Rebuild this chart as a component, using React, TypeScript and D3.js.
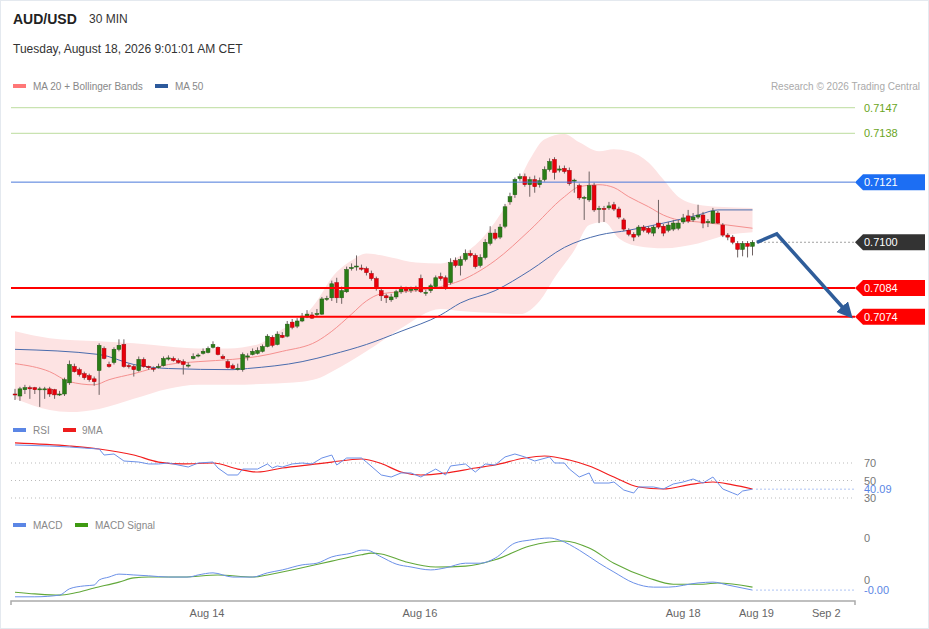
import * as d3 from "d3";

// 30-min bars: [open, high, low, close]
const candles: [number, number, number, number][] = [
  [0.7047, 0.70488, 0.70449, 0.70467],
  [0.70463, 0.70495, 0.70446, 0.70488],
  [0.70485, 0.70502, 0.7047, 0.70492],
  [0.70492, 0.70499, 0.70453, 0.70488],
  [0.70492, 0.70495, 0.7047, 0.70485],
  [0.70485, 0.70495, 0.70425, 0.70488],
  [0.70485, 0.70495, 0.70453, 0.70488],
  [0.70488, 0.70495, 0.7046, 0.7047],
  [0.70485, 0.70488, 0.70453, 0.70467],
  [0.70467, 0.70481, 0.70463, 0.7047],
  [0.7047, 0.70527, 0.70463, 0.7052],
  [0.70509, 0.70587, 0.70502, 0.70573],
  [0.70566, 0.70576, 0.70545, 0.70548],
  [0.70555, 0.70562, 0.70531, 0.70538],
  [0.70541, 0.70548, 0.7052, 0.70527],
  [0.70534, 0.70541, 0.70513, 0.7052],
  [0.70523, 0.70531, 0.70499, 0.70513],
  [0.70552, 0.70647, 0.70467, 0.7064],
  [0.70629, 0.70636, 0.70591, 0.70594],
  [0.70573, 0.70583, 0.70562, 0.70566],
  [0.7058, 0.70633, 0.70573, 0.70626],
  [0.70626, 0.70661, 0.70619, 0.7064],
  [0.70643, 0.70661, 0.70562, 0.70566],
  [0.70569, 0.70576, 0.70559, 0.70566],
  [0.70566, 0.70573, 0.70531, 0.70555],
  [0.70552, 0.70601, 0.70548, 0.70591],
  [0.70591, 0.70598, 0.70562, 0.70566],
  [0.70566, 0.70569, 0.70555, 0.70562],
  [0.7056, 0.70566, 0.70548, 0.70557],
  [0.70562, 0.70576, 0.70559, 0.70566],
  [0.70569, 0.70601, 0.70566, 0.70594],
  [0.70592, 0.70605, 0.70587, 0.70596],
  [0.70594, 0.70601, 0.70583, 0.70587],
  [0.70587, 0.70594, 0.70576, 0.7058],
  [0.70583, 0.70591, 0.70538, 0.70573],
  [0.70569, 0.7058, 0.70562, 0.70571],
  [0.70594, 0.70612, 0.70591, 0.70601],
  [0.70603, 0.70612, 0.70598, 0.70606],
  [0.70612, 0.70629, 0.70608, 0.70619],
  [0.70615, 0.70636, 0.70612, 0.70629],
  [0.70633, 0.70654, 0.70629, 0.70643],
  [0.70633, 0.70636, 0.70605, 0.70608],
  [0.70601, 0.70608, 0.70591, 0.70594],
  [0.70583, 0.70591, 0.70559, 0.70562],
  [0.70569, 0.70576, 0.70555, 0.70559],
  [0.70557, 0.70576, 0.70552, 0.7056],
  [0.70555, 0.70615, 0.70548, 0.70608],
  [0.70599, 0.70612, 0.70587, 0.70603],
  [0.70608, 0.70629, 0.70605, 0.70619],
  [0.70612, 0.70633, 0.70608, 0.70622],
  [0.70619, 0.70643, 0.70615, 0.70636],
  [0.70636, 0.70679, 0.70633, 0.70672],
  [0.70668, 0.70675, 0.70633, 0.7064],
  [0.70643, 0.70689, 0.7064, 0.70679],
  [0.70675, 0.70686, 0.70665, 0.70668],
  [0.70672, 0.70725, 0.70668, 0.70714],
  [0.70721, 0.70732, 0.70696, 0.70703],
  [0.70707, 0.70735, 0.707, 0.70725],
  [0.70725, 0.70753, 0.70721, 0.70742],
  [0.70739, 0.70763, 0.70735, 0.70749],
  [0.70746, 0.70756, 0.70732, 0.70735],
  [0.70748, 0.70767, 0.70742, 0.70751],
  [0.70749, 0.70809, 0.70746, 0.70802],
  [0.70801, 0.70813, 0.70795, 0.70804],
  [0.70806, 0.70866, 0.70795, 0.70855],
  [0.70859, 0.70876, 0.70788, 0.70806],
  [0.70806, 0.70845, 0.70785, 0.70831],
  [0.70827, 0.70915, 0.70823, 0.70905],
  [0.70908, 0.70926, 0.70901, 0.70912],
  [0.70914, 0.70954, 0.70901, 0.70917],
  [0.7091, 0.70922, 0.70901, 0.70906],
  [0.70908, 0.70915, 0.70884, 0.70894],
  [0.70891, 0.70901, 0.70866, 0.70873],
  [0.70873, 0.7088, 0.70831, 0.70838],
  [0.70831, 0.70841, 0.70795, 0.70813],
  [0.70813, 0.7082, 0.70788, 0.70806],
  [0.70799, 0.7082, 0.70792, 0.70809],
  [0.70809, 0.70834, 0.70802, 0.70827],
  [0.70827, 0.70848, 0.7082, 0.70838],
  [0.70838, 0.70845, 0.70823, 0.70831],
  [0.70832, 0.70845, 0.70823, 0.70836],
  [0.70834, 0.70848, 0.70827, 0.70841],
  [0.70873, 0.70887, 0.70823, 0.70827],
  [0.70822, 0.70834, 0.70813, 0.70825],
  [0.70831, 0.70855, 0.70823, 0.70848],
  [0.70845, 0.70884, 0.70838, 0.70876],
  [0.7088, 0.70894, 0.70866, 0.70873],
  [0.70876, 0.70884, 0.70834, 0.70841],
  [0.70859, 0.70944, 0.70852, 0.70929],
  [0.70936, 0.70947, 0.70912, 0.70919],
  [0.70919, 0.70951, 0.70884, 0.7094],
  [0.7094, 0.70975, 0.70933, 0.70961],
  [0.70961, 0.70972, 0.70947, 0.70954],
  [0.70954, 0.70961, 0.70908, 0.70915],
  [0.70919, 0.70958, 0.70912, 0.70947],
  [0.70947, 0.71011, 0.7094, 0.71],
  [0.70996, 0.71056, 0.70989, 0.71032],
  [0.71032, 0.71046, 0.71007, 0.71014],
  [0.71018, 0.71064, 0.71011, 0.71053],
  [0.71056, 0.71134, 0.71049, 0.71124],
  [0.71141, 0.71173, 0.71131, 0.71159],
  [0.71166, 0.71226, 0.71155, 0.71219],
  [0.71222, 0.7124, 0.71215, 0.71229],
  [0.71229, 0.7124, 0.71194, 0.71201],
  [0.71201, 0.71229, 0.71159, 0.71219],
  [0.71219, 0.71233, 0.71173, 0.71194],
  [0.71201, 0.71226, 0.71191, 0.71215],
  [0.71219, 0.71265, 0.71212, 0.71254],
  [0.71254, 0.71293, 0.71247, 0.71282],
  [0.71289, 0.71297, 0.71219, 0.71244],
  [0.71252, 0.71268, 0.71244, 0.71256],
  [0.71258, 0.71268, 0.7124, 0.71247],
  [0.71251, 0.71261, 0.71198, 0.71205],
  [0.71214, 0.71222, 0.71173, 0.71217],
  [0.71198, 0.71205, 0.71148, 0.71155],
  [0.71154, 0.71162, 0.71078, 0.71157],
  [0.71148, 0.71247, 0.71141, 0.71198],
  [0.71198, 0.71208, 0.71106, 0.71113],
  [0.71115, 0.71127, 0.71067, 0.71118],
  [0.71118, 0.71127, 0.71071, 0.71115],
  [0.7112, 0.71141, 0.71113, 0.71127],
  [0.71131, 0.71141, 0.71109, 0.71116],
  [0.71116, 0.71124, 0.71081, 0.71088],
  [0.71078, 0.71085, 0.71039, 0.71046],
  [0.71042, 0.71049, 0.71021, 0.71028],
  [0.71028, 0.71035, 0.71004, 0.71018],
  [0.71025, 0.7106, 0.71018, 0.71053],
  [0.71053, 0.7106, 0.71035, 0.71042],
  [0.71049, 0.71056, 0.71028, 0.71035],
  [0.71032, 0.7106, 0.71021, 0.71053],
  [0.71067, 0.71148, 0.71046, 0.71053],
  [0.71056, 0.71064, 0.71021, 0.71032],
  [0.71042, 0.71071, 0.71035, 0.7106],
  [0.71046, 0.71078, 0.71039, 0.71067],
  [0.71049, 0.71078, 0.71042, 0.71067],
  [0.71071, 0.71099, 0.71064, 0.71085],
  [0.71092, 0.71113, 0.71067, 0.71074],
  [0.71078, 0.71102, 0.71071, 0.71088],
  [0.71088, 0.71131, 0.71081, 0.71095],
  [0.71095, 0.71106, 0.71049, 0.71067],
  [0.71069, 0.71081, 0.71053, 0.71072],
  [0.71067, 0.7112, 0.71064, 0.71109],
  [0.71102, 0.71109, 0.71064, 0.71067],
  [0.7106, 0.71067, 0.71018, 0.71025],
  [0.71025, 0.71032, 0.71007, 0.71018],
  [0.71018, 0.71025, 0.70993, 0.71],
  [0.70996, 0.71004, 0.70947, 0.70975],
  [0.70975, 0.71004, 0.70951, 0.70996],
  [0.70996, 0.71004, 0.70947, 0.70986],
  [0.70986, 0.71007, 0.70954, 0.71],
];

// indicator lines: [bar index, value]
const ma20: [number, number][] = [
  [0, 0.70576], [7, 0.70548], [11, 0.70513], [16, 0.70502], [19, 0.7052], [24, 0.70541],
  [31, 0.70573], [37, 0.70583], [44, 0.70591], [49, 0.70601], [54, 0.70619], [61, 0.70654],
  [64, 0.70689], [68, 0.70749], [71, 0.70795], [74, 0.7082], [81, 0.70831], [86, 0.70845],
  [90, 0.70866], [97, 0.70936], [104, 0.71042], [111, 0.71159], [114, 0.71194], [118, 0.71201],
  [121, 0.71191], [124, 0.71159], [128, 0.71124], [131, 0.71095], [134, 0.71078], [138, 0.71071],
  [144, 0.7106], [149, 0.71049],
];
const ma50: [number, number][] = [
  [0, 0.70626], [17, 0.70608], [24, 0.70573], [31, 0.70559], [44, 0.70555], [47, 0.70559],
  [58, 0.70583], [64, 0.70608], [71, 0.70643], [78, 0.70689], [86, 0.70746], [90, 0.70788],
  [97, 0.70831], [104, 0.70901], [111, 0.70982], [118, 0.71025], [124, 0.71042], [131, 0.71067],
  [138, 0.71095], [142, 0.71113], [149, 0.71113],
];
const bbUpper: [number, number][] = [
  [0, 0.70689], [7, 0.70665], [17, 0.70654], [24, 0.70647], [31, 0.70636], [37, 0.70629],
  [43, 0.70629], [49, 0.70643], [54, 0.70696], [58, 0.70735], [61, 0.70795], [64, 0.70876],
  [68, 0.70936], [71, 0.70961], [76, 0.70947], [81, 0.70929], [86, 0.70926], [90, 0.70954],
  [94, 0.71007], [97, 0.71071], [101, 0.71184], [104, 0.71289], [107, 0.7136], [111, 0.71378],
  [114, 0.71349], [118, 0.71318], [121, 0.71325], [124, 0.71318], [128, 0.71279], [131, 0.71219],
  [134, 0.71159], [138, 0.71131], [142, 0.71124], [149, 0.7112],
];
const bbLower: [number, number][] = [
  [0, 0.70453], [7, 0.70414], [11, 0.70407], [17, 0.70418], [24, 0.70453], [31, 0.70488],
  [37, 0.70502], [44, 0.70502], [51, 0.70506], [58, 0.70513], [61, 0.70523], [64, 0.70548],
  [71, 0.70619], [78, 0.707], [86, 0.70767], [90, 0.7076], [97, 0.70753], [102, 0.70749],
  [106, 0.70795], [109, 0.70876], [113, 0.70972], [116, 0.7106], [119, 0.71071], [122, 0.71014],
  [126, 0.70986], [131, 0.70979], [138, 0.70996], [144, 0.71025], [149, 0.71035],
];

const rsi: [number, number][] = [
  [0, 90.6], [7, 89.4], [11, 88.3], [14, 87.1], [17, 86.0], [18, 79.1], [20, 80.3], [22, 72.3],
  [25, 71.1], [27, 68.9], [29, 68.9], [31, 70.0], [35, 65.4], [37, 70.0], [40, 71.1], [41, 64.3],
  [43, 56.3], [45, 56.3], [46, 63.1], [49, 63.1], [51, 68.9], [52, 64.3], [53, 66.6], [54, 65.4],
  [56, 68.9], [58, 70.0], [60, 68.9], [62, 75.7], [64, 79.1], [65, 67.7], [67, 75.7], [70, 75.7],
  [71, 71.1], [74, 56.3], [76, 54.0], [78, 58.6], [80, 58.6], [82, 54.0], [85, 63.1], [87, 56.3],
  [88, 66.6], [91, 68.9], [93, 59.7], [95, 68.9], [97, 67.7], [99, 76.9], [101, 80.3], [103, 76.9],
  [105, 72.3], [108, 76.9], [109, 70.0], [111, 70.0], [112, 63.1], [114, 54.0], [116, 58.6],
  [117, 47.1], [120, 47.1], [121, 48.3], [123, 39.1], [125, 35.7], [126, 42.6], [129, 42.6],
  [131, 40.3], [133, 46.0], [135, 48.3], [137, 51.7], [139, 47.1], [141, 54.0], [143, 40.3],
  [145, 35.7], [146, 33.4], [147, 38.0], [149, 40.09],
];
const rsiMa: [number, number][] = [
  [0, 92.9], [11, 89.4], [17, 86.0], [24, 79.1], [29, 71.1], [34, 68.9], [40, 70.0], [45, 63.1],
  [49, 59.7], [54, 64.3], [61, 68.9], [64, 71.1], [70, 74.6], [74, 69.4], [78, 59.7], [82, 56.3],
  [87, 58.6], [93, 64.3], [97, 67.7], [103, 75.7], [107, 78.0], [112, 73.4], [116, 66.6],
  [121, 54.0], [126, 42.6], [131, 40.3], [136, 44.9], [141, 48.3], [145, 44.9], [149, 40.3],
];
const macd: [number, number][] = [
  [0, -0.0004], [4, -0.0004], [9, -0.00036], [11, -0.00021], [14, -0.00014], [16, -0.00012],
  [17, 0.0], [19, 0.00007], [21, 0.00014], [24, 0.00012], [27, 0.0001], [31, 0.00007],
  [35, 0.00007], [37, 0.00012], [40, 0.00017], [44, 0.00007], [48, 0.00007], [51, 0.00017],
  [54, 0.00024], [58, 0.00036], [61, 0.0004], [64, 0.00055], [68, 0.00064], [70, 0.00071],
  [71, 0.00071], [74, 0.00055], [77, 0.00038], [80, 0.00031], [84, 0.00024], [87, 0.00029],
  [91, 0.0004], [94, 0.0004], [97, 0.00052], [101, 0.00088], [104, 0.00095], [108, 0.001],
  [110, 0.00095], [114, 0.00071], [118, 0.0004], [121, 0.00019], [125, -0.00007], [129, -0.00017],
  [132, -0.00017], [138, -0.00007], [141, -0.00005], [144, -0.00012], [149, -0.00024],
];
const macdSignal: [number, number][] = [
  [0, -0.00029], [4, -0.00033], [9, -0.00036], [12, -0.00031], [16, -0.00019], [21, -0.00005],
  [24, 0.00005], [27, 0.00007], [34, 0.00007], [41, 0.00012], [48, 0.00007], [51, 0.00012],
  [58, 0.00029], [64, 0.00045], [70, 0.0006], [72, 0.00064], [74, 0.00062], [79, 0.00043],
  [85, 0.00031], [91, 0.00033], [97, 0.00048], [104, 0.00081], [111, 0.00093], [116, 0.00076],
  [121, 0.0004], [128, 0.00005], [133, -0.0001], [139, -0.0001], [142, -0.00007], [149, -0.00017],
];

const resistances = [0.7147, 0.7138];
const pivot = 0.7121;
const lastPrice = 0.71;
const supports = [0.7084, 0.7074];
const rsiGuides = [70, 50, 30];
const macdTicks = [0.001, 0];
// scenario arrow: [bar index, price]
const scenario: [number, number][] = [[149.9, 0.71], [153.9, 0.71029], [168.6, 0.70746]];

const dateTicks: { label: string; at: number }[] = [
  { label: "Aug 14", at: 38.8 },
  { label: "Aug 16", at: 81.8 },
  { label: "Aug 18", at: 135 },
  { label: "Aug 19", at: 149.8 },
  { label: "Sep 2", at: 163.9 },
];

const FONT = "'Liberation Sans', Arial, sans-serif";
const RIGHT = 855;
const LEFT = 11;

// keeps the sign of values that round to zero, e.g. -0.00
const signed2 = (v: number) => (v < 0 ? "-" : "") + d3.format(".2f")(Math.abs(v));

const App = () => {
  const x = d3.scaleLinear().domain([0, 149]).range([15, 752.5]);
  const y = d3.scaleLinear().domain([0.7074, 0.7147]).range([316.7, 107.7]);
  const yRsi = d3.scaleLinear().domain([30, 70]).range([498, 463]);
  const yMacd = d3.scaleLinear().domain([0, 0.001]).range([580, 538]);

  const smooth = (sy: d3.ScaleLinear<number, number>) =>
    d3
      .line<[number, number]>()
      .x((d) => x(d[0]))
      .y((d) => sy(d[1]))
      .curve(d3.curveMonotoneX);
  const jagged = (sy: d3.ScaleLinear<number, number>) =>
    d3
      .line<[number, number]>()
      .x((d) => x(d[0]))
      .y((d) => sy(d[1]));

  const up = smooth(y)(bbUpper) || "";
  const lo = smooth(y)(bbLower.slice().reverse()) || "";
  const band = up + "L" + lo.slice(1) + "Z";

  const bodyW = 3.8;

  const tag = (yy: number, color: string, label: string, key: string) => (
    <g key={key}>
      <path
        d={`M${RIGHT},${yy} L${RIGHT + 8},${yy - 8} L925,${yy - 8} L925,${yy + 8} L${RIGHT + 8},${yy + 8} Z`}
        fill={color}
      />
      <text x={864} y={yy + 4} fill="#fff" fontSize={11}>
        {label}
      </text>
    </g>
  );

  const fmt = d3.format(".4f");
  const lastRsi = rsi[rsi.length - 1][1];
  const lastMacd = macd[macd.length - 1][1];

  return (
    <div style={{ position: "absolute", left: 0, top: 0 }}>
      <svg width={929} height={629} style={{ display: "block", fontFamily: FONT }}>
        <defs>
          <marker
            id="head"
            viewBox="0 0 10 10"
            refX={7}
            refY={5}
            markerWidth={16}
            markerHeight={16}
            markerUnits="userSpaceOnUse"
            orient="auto"
          >
            <path d="M0,0 L10,5 L0,10 Z" fill="#2f5d9a" />
          </marker>
        </defs>
        <rect x={0.5} y={0.5} width={928} height={628} fill="#fff" stroke="#e4e9ef" />

        {/* header */}
        <text x={13} y={24} fontSize={14} fontWeight="bold" fill="#222">
          AUD/USD
        </text>
        <text x={89} y={23} fontSize={12} fill="#333">
          30 MIN
        </text>
        <text x={13} y={53} fontSize={12} fill="#333">
          Tuesday, August 18, 2026 9:01:01 AM CET
        </text>

        {/* legend */}
        <rect x={13} y={84} width={13} height={4} fill="#f77" />
        <text x={33} y={90} fontSize={10} fill="#888">
          MA 20 + Bollinger Bands
        </text>
        <rect x={155} y={84} width={13} height={4} fill="#2d5a9c" />
        <text x={175} y={90} fontSize={10} fill="#888">
          MA 50
        </text>
        <text x={920} y={90} fontSize={10} fill="#aaa" textAnchor="end">
          Research © 2026 Trading Central
        </text>

        {/* bands and averages */}
        <path d={band} fill="#fde3e3" />
        <path d={smooth(y)(ma20) || ""} fill="none" stroke="#f5908f" strokeWidth={1} />
        <path d={smooth(y)(ma50) || ""} fill="none" stroke="#4a6cad" strokeWidth={1} />

        {/* candles */}
        {candles.map(([o, h, l, c], i) => {
          const cx = x(i);
          const upBar = c >= o;
          const top = y(Math.max(o, c));
          const bh = Math.max(1, Math.abs(y(o) - y(c)));
          return (
            <g key={i}>
              <line x1={cx} x2={cx} y1={y(h)} y2={y(l)} stroke="#6e6262" strokeWidth={1} />
              <rect
                x={cx - bodyW / 2}
                y={top}
                width={bodyW}
                height={bh}
                fill={upBar ? "#2a7d16" : "#e8000b"}
                stroke={upBar ? "#1d5a10" : "#a30008"}
                strokeWidth={0.5}
              />
            </g>
          );
        })}

        {/* levels */}
        {resistances.map((r) => (
          <g key={r}>
            <line x1={LEFT} x2={RIGHT} y1={y(r)} y2={y(r)} stroke="#c9e3b1" strokeWidth={1.2} />
            <text x={864} y={y(r) + 4} fontSize={11} fill="#6aa51d">
              {fmt(r)}
            </text>
          </g>
        ))}
        <line x1={LEFT} x2={RIGHT} y1={y(pivot)} y2={y(pivot)} stroke="#4a78da" strokeWidth={1} />
        {tag(y(pivot), "#1c6ef3", fmt(pivot), "pivot")}
        {supports.map((s) => (
          <g key={s}>
            <line x1={LEFT} x2={RIGHT} y1={y(s)} y2={y(s)} stroke="#ff0000" strokeWidth={2} />
            {tag(y(s), "#ff0000", fmt(s), "t" + s)}
          </g>
        ))}
        <line
          x1={x(149) + 4}
          x2={RIGHT}
          y1={y(lastPrice)}
          y2={y(lastPrice)}
          stroke="#444"
          strokeDasharray="1,3"
        />
        {tag(y(lastPrice), "#333333", fmt(lastPrice), "last")}

        {/* scenario arrow */}
        <path
          d={jagged(y)(scenario) || ""}
          fill="none"
          stroke="#2f5d9a"
          strokeWidth={3.5}
          strokeLinejoin="miter"
          markerEnd="url(#head)"
        />

        {/* RSI panel */}
        <rect x={13} y={428} width={13} height={4} fill="#5b86e5" />
        <text x={33} y={434} fontSize={10} fill="#888">
          RSI
        </text>
        <rect x={63} y={428} width={13} height={4} fill="#ee1c1c" />
        <text x={82} y={434} fontSize={10} fill="#888">
          9MA
        </text>
        {rsiGuides.map((g) => (
          <g key={g}>
            <line
              x1={LEFT}
              x2={RIGHT}
              y1={yRsi(g)}
              y2={yRsi(g)}
              stroke="#bbb"
              strokeDasharray="1,3"
            />
            <text x={864} y={yRsi(g) + 4} fontSize={11} fill="#777">
              {g}
            </text>
          </g>
        ))}
        <path d={smooth(yRsi)(rsiMa) || ""} fill="none" stroke="#f21d1d" strokeWidth={1.2} />
        <path d={jagged(yRsi)(rsi) || ""} fill="none" stroke="#6b90e8" strokeWidth={1} />
        <line
          x1={x(149) + 4}
          x2={RIGHT}
          y1={yRsi(lastRsi)}
          y2={yRsi(lastRsi)}
          stroke="#5b86e5"
          strokeDasharray="1,3"
        />
        <text x={864} y={yRsi(lastRsi) + 4} fontSize={11} fill="#5b86e5">
          {d3.format(".2f")(lastRsi)}
        </text>

        {/* MACD panel */}
        <rect x={13} y={523} width={13} height={4} fill="#5b86e5" />
        <text x={33} y={529} fontSize={10} fill="#888">
          MACD
        </text>
        <rect x={75} y={523} width={13} height={4} fill="#3f9a12" />
        <text x={95} y={529} fontSize={10} fill="#888">
          MACD Signal
        </text>
        {macdTicks.map((t) => (
          <text key={t} x={864} y={yMacd(t) + 4} fontSize={11} fill="#777">
            {d3.format(".0f")(t)}
          </text>
        ))}
        <path d={smooth(yMacd)(macdSignal) || ""} fill="none" stroke="#62a83a" strokeWidth={1.1} />
        <path d={smooth(yMacd)(macd) || ""} fill="none" stroke="#6b90e8" strokeWidth={1} />
        <line
          x1={x(149) + 4}
          x2={RIGHT}
          y1={yMacd(lastMacd)}
          y2={yMacd(lastMacd)}
          stroke="#5b86e5"
          strokeDasharray="1,3"
        />
        <text x={864} y={yMacd(lastMacd) + 4} fontSize={11} fill="#5b86e5">
          {signed2(lastMacd)}
        </text>

        {/* time axis */}
        <path
          d={`M${LEFT},605 L${LEFT},601 L${RIGHT},601 L${RIGHT},605`}
          fill="none"
          stroke="#aaa"
          strokeWidth={1.5}
        />
        {dateTicks.map((t) => (
          <text key={t.label} x={x(t.at)} y={617} fontSize={11} fill="#666" textAnchor="middle">
            {t.label}
          </text>
        ))}
      </svg>
    </div>
  );
};

export default App;
